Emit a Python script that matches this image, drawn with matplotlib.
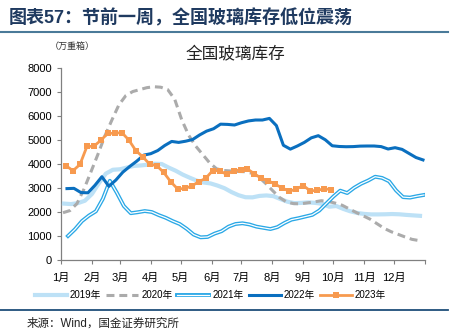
import matplotlib
matplotlib.use('Agg')
from matplotlib import pyplot
import matplotlib.patheffects as pe
import pandas as pd

pyplot.rcParams['font.family'] = ['Liberation Sans', 'Noto Sans CJK SC']

# weekly glass inventory (10k weight boxes), one value per Friday
first_friday = {'2019': '2019-01-04', '2020': '2020-01-03', '2021': '2021-01-08',
                '2022': '2022-01-07', '2023': '2023-01-06'}

inv_2019 = [2350, 2330, 2370, 2470, 2750, 3200, 3600, 3760, 3780, 3850,
            3920, 3940, 3970, 4010, 4000, 3850, 3720, 3560, 3430, 3310,
            3230, 3190, 3100, 2990, 2830, 2700, 2615, 2610, 2670, 2690,
            2660, 2540, 2430, 2370, 2380, 2400, 2380, 2340, 2220, 2250,
            2130, 2030, 1960, 1920, 1900, 1900, 1905, 1915, 1905, 1880,
            1860, 1840]
inv_2020 = [1970, 2060, 2350, 2950, 3670, 4400, 5170, 5830, 6460, 6850,
            7020, 7100, 7180, 7220, 7200, 7100, 6700, 5850, 5200, 4750,
            4400, 4050, 3800, 3730, 3710, 3690, 3680, 3620, 3470, 3200,
            2900, 2610, 2420, 2350, 2340, 2380, 2420, 2470, 2440, 2370,
            2280, 2130, 1980, 1840, 1700, 1510, 1320, 1180, 1070, 960,
            860, 810]
inv_2021 = [1000, 1280, 1620, 1850, 2030, 2550, 3300, 2800, 2250, 1950,
            1990, 2040, 2000, 1870, 1760, 1620, 1500, 1300, 1060, 944,
            960, 1100, 1200, 1390, 1500, 1530, 1480, 1390, 1340, 1290,
            1370, 1540, 1680, 1740, 1810, 1880, 2060, 2350, 2640, 2890,
            2790, 3010, 3180, 3310, 3470, 3420, 3280, 2900, 2620, 2600,
            2660, 2710]
inv_2022 = [2975, 2985, 2810, 2800, 3110, 3470, 3070, 3330, 3660, 3900,
            4120, 4370, 4430, 4560, 4770, 4940, 4900, 4950, 5020, 5210,
            5370, 5470, 5660, 5650, 5625, 5720, 5795, 5833, 5833, 5900,
            5600, 4780, 4620, 4750, 4900, 5090, 5180, 5010, 4760, 4730,
            4720, 4725, 4745, 4750, 4750, 4725, 4625, 4680, 4610, 4440,
            4270, 4170]
inv_2023 = [3930, 3720, 3980, 4730, 4740, 4990, 5280, 5280, 5310, 5000,
            4560, 4300, 3990, 3930, 3650, 3260, 2960, 2980, 3080, 3260,
            3400, 3720, 3720, 3570, 3710, 3760, 3790, 3590, 3400, 3300,
            3150, 3000, 2860, 2960, 3100, 2880, 2900, 2970, 2930]

month_days = [0, 31, 59, 90, 120, 151, 181, 212, 243, 273, 304, 334, 365]
month_labels = ['1月', '2月', '3月', '4月', '5月', '6月', '7月', '8月', '9月',
                '10月', '11月', '12月', '']


def day_of_year(year, values):
    dates = pd.date_range(start=first_friday[year], periods=len(values), freq='7D')
    return (dates - pd.Timestamp(year + '-01-01')).days


fig = pyplot.figure(figsize=(4.59, 3.36), dpi=100)
ax = fig.add_axes([0.1329, 0.2262, 0.7930, 0.5714])

ax.plot(day_of_year('2019', inv_2019), inv_2019, color='#BDE1F6',
        linewidth=3.0, label='2019年', zorder=3)
ax.plot(day_of_year('2020', inv_2020), inv_2020, color='#ABABAB',
        linewidth=2.2, linestyle=(0, (2.6, 1.6)), label='2020年', zorder=4)
ax.plot(day_of_year('2021', inv_2021), inv_2021, color='white',
        linewidth=0.9, label='2021年', zorder=5,
        path_effects=[pe.Stroke(linewidth=2.8, foreground='#2AA8E6'), pe.Normal()])
ax.plot(day_of_year('2022', inv_2022), inv_2022, color='#0A6FBF',
        linewidth=2.2, label='2022年', zorder=6)
ax.plot(day_of_year('2023', inv_2023), inv_2023, color='#F79A4F',
        linewidth=2.0, marker='s', markersize=4.2, markeredgewidth=0,
        label='2023年', zorder=7)

ax.set_xlim(0, 365)
ax.set_ylim(0, 8000)
ax.set_yticks(range(0, 8001, 1000))
ax.set_xticks(month_days)
ax.set_xticklabels(month_labels)
for side in ['top', 'right']:
    ax.spines[side].set_visible(False)
for side in ['left', 'bottom']:
    ax.spines[side].set_color('#808080')
    ax.spines[side].set_linewidth(0.9)
ax.tick_params(axis='y', direction='out', length=3, width=0.8, color='#808080',
               labelsize=8, pad=3.5)
ax.tick_params(axis='x', direction='out', length=3, width=0.8, color='#808080',
               labelsize=8, pad=6)

fig.legend(loc='center', bbox_to_anchor=(0.4585, 0.122), ncol=5, frameon=False,
           fontsize=7, handlelength=3.3, handletextpad=0.3, columnspacing=0.5,
           numpoints=1)

fig.text(0.018, 0.945, '图表57：节前一周，全国玻璃库存低位震荡', fontsize=13,
         fontweight='bold', color='#1F3A60', va='center', ha='left')
fig.add_artist(pyplot.Line2D([0.0, 0.975], [0.905, 0.905], color='#4A7A99',
                             linewidth=1.5))
fig.text(0.514, 0.838, '全国玻璃库存', fontsize=12, color='#222222',
         va='center', ha='center')
fig.text(0.108, 0.862, '（万重箱）', fontsize=6.5, color='#333333',
         va='center', ha='left')
fig.add_artist(pyplot.Line2D([0.0, 0.975], [0.077, 0.077], color='#1F4E79',
                             linewidth=1.3))
fig.text(0.058, 0.038, '来源：Wind，国金证券研究所', fontsize=8.3,
         color='#222222', va='center', ha='left')

pyplot.savefig('out.png', dpi=100)
